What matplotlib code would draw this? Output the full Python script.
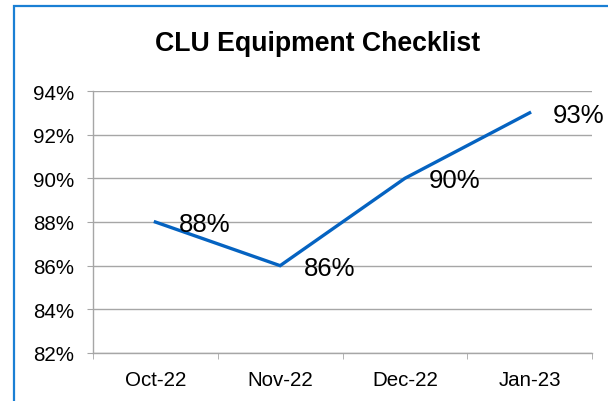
import matplotlib.pyplot as plt
from matplotlib.patches import Rectangle
from matplotlib.ticker import FixedLocator, FuncFormatter

months = ['Oct-22', 'Nov-22', 'Dec-22', 'Jan-23']
checklist_pct = [88, 86, 90, 93]
y_ticks = [82, 84, 86, 88, 90, 92, 94]

plt.rcParams['font.family'] = ['Liberation Sans', 'DejaVu Sans']

fig = plt.figure(figsize=(6.08, 4.02), dpi=100)
ax = fig.add_axes([93 / 608, 1 - 354 / 402, (592 - 93) / 608, (354 - 92) / 402])

# blue chart border (right and bottom edges run off the picture)
fig.patches.append(Rectangle((14 / 608, -0.05), 1.1, 1 - 7 / 402 + 0.05,
                             transform=fig.transFigure, fill=False,
                             edgecolor='#1a7fd4', linewidth=1.6, zorder=10))

x = list(range(len(months)))
ax.plot(x, checklist_pct, color='#0563c1', linewidth=2.4, solid_joinstyle='miter',
        zorder=3)

for xi, v in zip(x, checklist_pct):
    ax.annotate(f'{v}%', (xi, v), xytext=(17, -1.5), textcoords='offset points',
                ha='left', va='center', fontsize=18.5, color='black', zorder=4)

ax.set_xlim(-0.5, len(months) - 0.5)
ax.set_ylim(y_ticks[0], y_ticks[-1])
ax.set_yticks(y_ticks)
ax.yaxis.set_major_formatter(FuncFormatter(lambda v, _: f'{v:.0f}%'))
ax.set_xticks(x)
ax.set_xticklabels(months)
ax.xaxis.set_minor_locator(FixedLocator([i - 0.5 for i in range(len(months) + 1)]))

ax.grid(axis='y', color='#a6a6a6', linewidth=1.0)
ax.set_axisbelow(True)
for s in ['top', 'right']:
    ax.spines[s].set_visible(False)
for s in ['left', 'bottom']:
    ax.spines[s].set_color('#a6a6a6')
    ax.spines[s].set_linewidth(1.0)

ax.tick_params(axis='y', length=4.3, color='#a6a6a6', pad=9.5, labelsize=14.8)
ax.tick_params(axis='x', which='major', length=0, pad=12.5, labelsize=14.8)
ax.tick_params(axis='x', which='minor', length=4.3, color='#a6a6a6')

fig.text(318 / 608, 1 - 44 / 402, 'CLU Equipment Checklist', ha='center', va='center',
         fontsize=19.2, fontweight='bold')

fig.savefig('out.png', dpi=100)
